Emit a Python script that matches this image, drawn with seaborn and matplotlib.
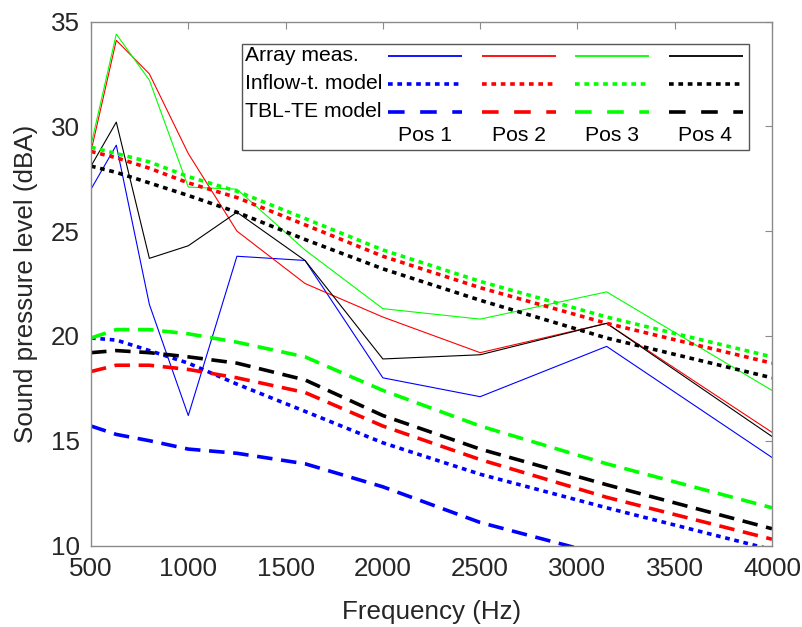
import matplotlib

matplotlib.use("Agg")
import matplotlib.pyplot as plt
import pandas as pd
import seaborn as sns
from matplotlib.patches import Rectangle

# third-octave band centres (Hz)
freq = [500, 630, 800, 1000, 1250, 1600, 2000, 2500, 3150, 4000]
positions = ["Pos 1", "Pos 2", "Pos 3", "Pos 4"]
pos_colors = {"Pos 1": "#0000ff", "Pos 2": "#ff0000", "Pos 3": "#00ff00", "Pos 4": "#000000"}

# array measurements (dBA)
meas_pos1 = [27.0, 29.1, 21.5, 16.2, 23.8, 23.6, 18.0, 17.1, 19.5, 14.2]
meas_pos2 = [28.8, 34.1, 32.5, 28.7, 25.0, 22.5, 20.9, 19.2, 20.6, 15.4]
meas_pos3 = [29.1, 34.4, 32.2, 27.1, 27.0, 24.1, 21.3, 20.8, 22.1, 17.4]
meas_pos4 = [28.1, 30.2, 23.7, 24.3, 25.9, 23.6, 18.9, 19.1, 20.6, 15.2]

# inflow-turbulence model (dBA)
inflow_pos1 = [19.9, 19.8, 19.3, 18.7, 17.7, 16.4, 14.9, 13.4, 11.8, 9.8]
inflow_pos2 = [28.8, 28.5, 28.0, 27.3, 26.6, 25.3, 23.8, 22.3, 20.6, 18.7]
inflow_pos3 = [29.0, 28.7, 28.3, 27.6, 26.9, 25.6, 24.1, 22.6, 20.9, 19.0]
inflow_pos4 = [28.1, 27.8, 27.3, 26.7, 25.9, 24.6, 23.2, 21.7, 19.9, 18.0]

# TBL-TE model (dBA)
tbl_pos1 = [15.7, 15.3, 15.0, 14.6, 14.4, 13.9, 12.8, 11.1, 9.5, 7.5]
tbl_pos2 = [18.3, 18.6, 18.6, 18.4, 18.0, 17.3, 15.7, 14.1, 12.3, 10.3]
tbl_pos3 = [19.9, 20.3, 20.3, 20.1, 19.7, 19.0, 17.4, 15.7, 13.9, 11.8]
tbl_pos4 = [19.2, 19.3, 19.2, 19.0, 18.7, 17.9, 16.2, 14.6, 12.9, 10.8]

kinds = ["Array meas.", "Inflow-t. model", "TBL-TE model"]
series = {
    "Array meas.": [meas_pos1, meas_pos2, meas_pos3, meas_pos4],
    "Inflow-t. model": [inflow_pos1, inflow_pos2, inflow_pos3, inflow_pos4],
    "TBL-TE model": [tbl_pos1, tbl_pos2, tbl_pos3, tbl_pos4],
}

# line styles per kind: (linewidth, dash pattern in plot, dash pattern in legend)
kind_style = {
    "Array meas.": (0.8, "", ""),
    "Inflow-t. model": (2.6, (1.3, 1.3), (1.3, 1.3)),
    "TBL-TE model": (2.6, (4.3, 2.4), (4.6, 4.3)),
}

rows = []
for kind in kinds:
    for pos, vals in zip(positions, series[kind]):
        for f, v in zip(freq, vals):
            rows.append({"kind": kind, "pos": pos, "freq": f, "spl": v})
df = pd.DataFrame(rows)

sns.set_style("white")
plt.rcParams["font.family"] = ["Liberation Sans", "DejaVu Sans"]
frame_gray = "#8a8a8a"
text_dark = "#262626"

fig = plt.figure(figsize=(8.02, 6.27), dpi=100)
ax = fig.add_axes([91 / 802, 1 - 545.5 / 627, 681 / 802, 524 / 627])

for kind in kinds:
    lw, dash, _ = kind_style[kind]
    sns.lineplot(
        data=df[df["kind"] == kind],
        x="freq",
        y="spl",
        hue="pos",
        palette=pos_colors,
        style="kind",
        dashes={kind: dash},
        linewidth=lw,
        estimator=None,
        legend=False,
        ax=ax,
    )

ax.set_xlim(500, 4000)
ax.set_ylim(10, 35)
ax.set_xticks(range(500, 4001, 500))
ax.set_yticks(range(10, 36, 5))
ax.tick_params(
    direction="in", length=5, width=0.8, color=frame_gray, labelcolor=text_dark,
    labelsize=18.7, top=True, right=True, pad=8,
)
for spine in ax.spines.values():
    spine.set_color(frame_gray)
    spine.set_linewidth(1.0)
# the source figure crops this label at the bottom edge; keep it just inside
ax.set_xlabel("Frequency (Hz)", fontsize=18.7, color=text_dark, labelpad=14)
ax.set_ylabel("Sound pressure level (dBA)", fontsize=18.7, color=text_dark, labelpad=9)

# table-style legend: rows = model kind, columns = position
def fx(px):
    return (px - 91) / 681


def fy(py):
    return 1 - (py - 21.5) / 524


ax.add_patch(Rectangle(
    (fx(242), fy(149.5)), fx(749) - fx(242), fy(43.5) - fy(149.5),
    transform=ax.transAxes, facecolor="white", edgecolor="#555555", linewidth=1.0, zorder=5,
))
row_y = [55.5, 83.7, 111.6]
col_x = [388, 481.5, 575, 668.5]
for kind, ry in zip(kinds, row_y):
    lw, _, leg_dash = kind_style[kind]
    ax.text(fx(245), fy(ry), kind, transform=ax.transAxes, fontsize=15.2,
            color="black", ha="left", va="center", zorder=6)
    for pos, cx in zip(positions, col_x):
        line, = ax.plot([fx(cx), fx(cx + 74)], [fy(ry), fy(ry)], transform=ax.transAxes,
                        color=pos_colors[pos], linewidth=max(lw, 1.3), zorder=6,
                        solid_capstyle="butt", dash_capstyle="butt")
        if leg_dash:
            line.set_dashes(leg_dash)
for pos, cx in zip(positions, col_x):
    ax.text(fx(cx + 37), fy(135.5), pos, transform=ax.transAxes, fontsize=15.2,
            color="black", ha="center", va="center", zorder=6)

fig.savefig("out.png", dpi=100)
plt.close(fig)
